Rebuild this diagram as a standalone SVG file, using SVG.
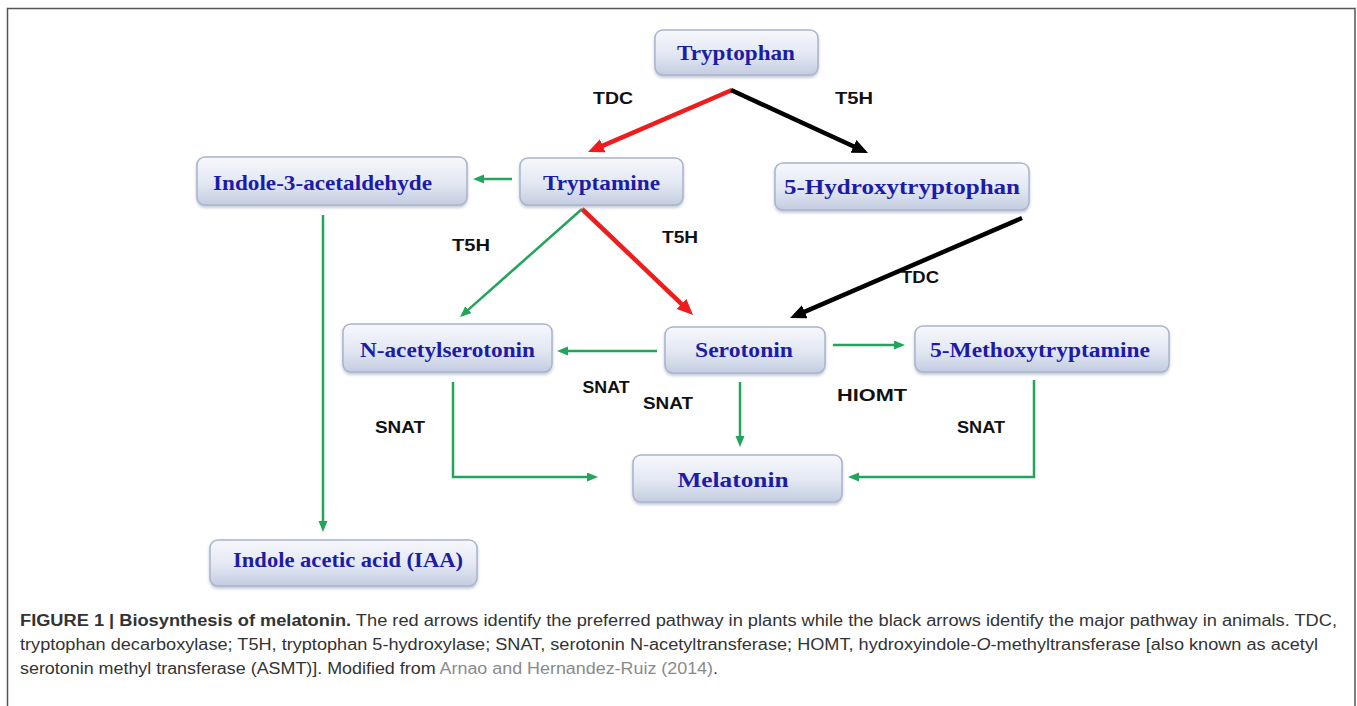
<svg xmlns="http://www.w3.org/2000/svg" width="1357" height="706" viewBox="0 0 1357 706">
<style>
.box{fill:url(#g);stroke:#a9b5cc;stroke-width:1.5;filter:url(#sh)}
.nt{font-family:"Liberation Serif","Times New Roman",serif;font-weight:bold;font-size:22px;fill:#1c1ca6;text-anchor:middle}
.lb{font-family:"Liberation Sans",Arial,sans-serif;font-weight:bold;font-size:16px;fill:#111;text-anchor:middle}
.cap{font-family:"Liberation Sans",Arial,sans-serif;font-size:16px;fill:#333}
.red{stroke:#ee1c1c;stroke-width:4.5;fill:none}
.blk{stroke:#000;stroke-width:4.5;fill:none}
.grn{stroke:#22a55b;stroke-width:2.5;fill:none}
</style>
<defs>
<linearGradient id="g" x1="0" y1="0" x2="0" y2="1">
<stop offset="0" stop-color="#f7f8fc"/>
<stop offset="0.55" stop-color="#e2e7f2"/>
<stop offset="1" stop-color="#c3cce0"/>
</linearGradient>
<filter id="sh" x="-10%" y="-20%" width="120%" height="150%">
<feDropShadow dx="0" dy="2" stdDeviation="1.5" flood-color="#8090a8" flood-opacity="0.5"/>
</filter>
<marker id="ar" markerUnits="userSpaceOnUse" markerWidth="17" markerHeight="15" refX="1" refY="7" orient="auto">
<path d="M0,0 L16,7 L0,14 z" fill="#ee1c1c"/>
</marker>
<marker id="ab" markerUnits="userSpaceOnUse" markerWidth="17" markerHeight="15" refX="1" refY="7" orient="auto">
<path d="M0,0 L16,7 L0,14 z" fill="#000"/>
</marker>
<marker id="ag" markerUnits="userSpaceOnUse" markerWidth="12" markerHeight="10" refX="1" refY="4.5" orient="auto">
<path d="M0,0 L11,4.5 L0,9 z" fill="#22a55b"/>
</marker>
</defs>
<rect width="1357" height="706" fill="#fff"/>
<path d="M7.5,706 V8.5 H1355 V706" fill="none" stroke="#555" stroke-width="1.5"/>

<g id="connectors">
<line class="red" x1="732" y1="90" x2="601.8" y2="146.1" marker-end="url(#ar)"/>
<line class="blk" x1="731" y1="90" x2="854.4" y2="146.7" marker-end="url(#ab)"/>
<line class="red" x1="582" y1="209" x2="682.2" y2="304.6" marker-end="url(#ar)"/>
<line class="blk" x1="1022" y1="218" x2="803.8" y2="312.1" marker-end="url(#ab)"/>
<line class="grn" x1="582" y1="209" x2="467.5" y2="310.4" marker-end="url(#ag)"/>
<line class="grn" x1="512" y1="179" x2="483" y2="179" marker-end="url(#ag)"/>
<line class="grn" x1="323" y1="215" x2="323" y2="522" marker-end="url(#ag)"/>
<line class="grn" x1="657" y1="351" x2="567" y2="351" marker-end="url(#ag)"/>
<line class="grn" x1="833" y1="345" x2="895" y2="345" marker-end="url(#ag)"/>
<line class="grn" x1="740" y1="382" x2="740" y2="437" marker-end="url(#ag)"/>
<polyline class="grn" points="453,382 453,477 588,477" marker-end="url(#ag)"/>
<polyline class="grn" points="1034,380 1034,477 858,477" marker-end="url(#ag)"/>
<text class="lb" x="613" y="104" textLength="40" lengthAdjust="spacingAndGlyphs">TDC</text>
<text class="lb" x="854" y="104" textLength="38" lengthAdjust="spacingAndGlyphs">T5H</text>
<text class="lb" x="471" y="251" textLength="38" lengthAdjust="spacingAndGlyphs">T5H</text>
<text class="lb" x="680" y="243" textLength="36" lengthAdjust="spacingAndGlyphs">T5H</text>
<text class="lb" x="920" y="283" textLength="38" lengthAdjust="spacingAndGlyphs">TDC</text>
<text class="lb" x="606" y="393" textLength="47" lengthAdjust="spacingAndGlyphs">SNAT</text>
<text class="lb" x="668" y="409" textLength="50" lengthAdjust="spacingAndGlyphs">SNAT</text>
<text class="lb" x="872" y="401" textLength="70" lengthAdjust="spacingAndGlyphs">HIOMT</text>
<text class="lb" x="400" y="433" textLength="50" lengthAdjust="spacingAndGlyphs">SNAT</text>
<text class="lb" x="981" y="433" textLength="48" lengthAdjust="spacingAndGlyphs">SNAT</text>
</g>

<g id="tryptophan"><rect class="box" x="655" y="30" width="163" height="45" rx="8"/><text class="nt" x="736" y="60" textLength="118" lengthAdjust="spacingAndGlyphs">Tryptophan</text></g>
<g id="indole3acetaldehyde"><rect class="box" x="197" y="157" width="270" height="48" rx="8"/><text class="nt" x="322.5" y="190" textLength="219" lengthAdjust="spacingAndGlyphs">Indole-3-acetaldehyde</text></g>
<g id="tryptamine"><rect class="box" x="520" y="158" width="163" height="47" rx="8"/><text class="nt" x="601.5" y="190" textLength="117" lengthAdjust="spacingAndGlyphs">Tryptamine</text></g>
<g id="hydroxytryptophan"><rect class="box" x="775" y="163" width="254" height="47" rx="8"/><text class="nt" x="902" y="194" textLength="236" lengthAdjust="spacingAndGlyphs">5-Hydroxytryptophan</text></g>
<g id="nacetylserotonin"><rect class="box" x="343" y="324" width="209" height="48" rx="8"/><text class="nt" x="447.5" y="357" textLength="175" lengthAdjust="spacingAndGlyphs">N-acetylserotonin</text></g>
<g id="serotonin"><rect class="box" x="665" y="327" width="160" height="46" rx="8"/><text class="nt" x="744" y="357" textLength="98" lengthAdjust="spacingAndGlyphs">Serotonin</text></g>
<g id="methoxytryptamine"><rect class="box" x="915" y="326" width="254" height="46" rx="8"/><text class="nt" x="1040" y="357" textLength="220" lengthAdjust="spacingAndGlyphs">5-Methoxytryptamine</text></g>
<g id="melatonin"><rect class="box" x="633" y="455" width="209" height="47" rx="8"/><text class="nt" x="733" y="487" textLength="111" lengthAdjust="spacingAndGlyphs">Melatonin</text></g>
<g id="iaa"><rect class="box" x="210" y="540" width="267" height="46" rx="8"/><text class="nt" x="348" y="567" textLength="230" lengthAdjust="spacingAndGlyphs">Indole acetic acid (IAA)</text></g>

<g id="caption">
<text class="cap" x="20" y="626" textLength="1317" lengthAdjust="spacingAndGlyphs"><tspan font-weight="bold">FIGURE 1 | Biosynthesis of melatonin.</tspan> The red arrows identify the preferred pathway in plants while the black arrows identify the major pathway in animals. TDC,</text>
<text class="cap" x="20" y="650" textLength="1298" lengthAdjust="spacingAndGlyphs">tryptophan decarboxylase; T5H, tryptophan 5-hydroxylase; SNAT, serotonin N-acetyltransferase; HOMT, hydroxyindole-<tspan font-style="italic">O</tspan>-methyltransferase [also known as acetyl</text>
<text class="cap" x="20" y="674" textLength="698" lengthAdjust="spacingAndGlyphs">serotonin methyl transferase (ASMT)]. Modified from <tspan fill="#8a8a8a">Arnao and Hernandez-Ruiz (2014)</tspan>.</text>
</g>
</svg>
